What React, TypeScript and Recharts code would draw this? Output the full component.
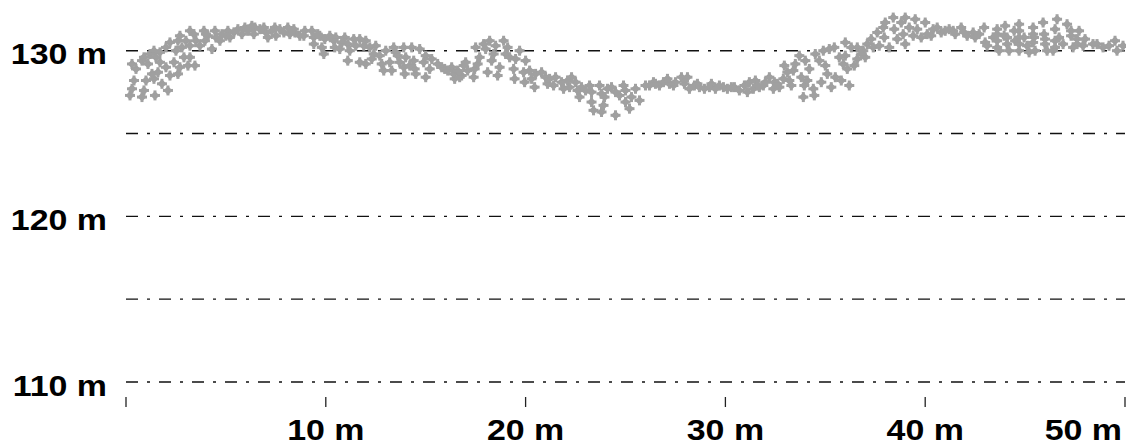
import React from "react";
import { ScatterChart, Scatter, XAxis, YAxis, CartesianGrid } from "recharts";

// Ground profile points: [distance (m), elevation (m)]
const profile0to10: [number, number][] = [
  [0.2,127.3],[0.3,127.7],[0.4,128.2],[0.8,127.2],[0.9,127.6],[1.0,128.2],[1.4,128.3],[1.45,127.3],[1.8,128.0],[2.1,127.6],[1.6,128.7],[2.0,129.0],[2.2,128.5],[2.6,128.6],[2.7,129.0],
  [0.3,129.2],[0.8,129.4],[0.9,129.6],[1.2,129.8],[1.4,130.0],[1.5,129.6],[1.7,129.9],[2.0,130.2],[2.2,130.5],[2.6,130.6],[2.7,130.9],[2.8,130.2],[2.9,129.6],[3.1,129.1],[3.2,131.2],[3.2,129.6],[3.45,129.1],[3.2,130.3],[3.5,130.6],[3.7,130.3],[3.9,131.2],[3.95,130.6],[4.1,130.9],[4.3,130.1],[4.45,131.2],[4.5,130.8],[4.7,130.6],[5.0,130.9],[5.1,131.2],[5.2,130.8],[5.6,131.3],[5.8,131.0],[5.95,131.4],[6.3,131.5],[6.4,131.0],[6.45,131.4],[6.9,131.4],[7.0,131.1],[7.1,130.8],[7.45,131.4],[7.5,130.9],[7.9,131.1],[8.1,131.4],[8.2,131.0],[8.45,131.1],[8.7,130.9],[8.95,131.2],[9.3,131.2],[9.4,130.8],[9.4,130.4],[9.7,130.9],[9.8,130.2],[9.9,129.8],[9.95,130.7],
  [0.5,128.9],[1.1,129.2],[1.3,128.6],[1.7,129.3],[2.4,129.3],[2.5,130.0],[3.0,130.6],[3.4,131.0],[4.0,131.0],[4.8,131.0],[5.4,131.1],[6.1,131.2],[6.7,131.3],[7.3,131.2],[7.7,131.3],[8.4,131.3],[8.9,130.9],[9.6,131.0],
];

const profile10to20: [number, number][] = [
  [10.2,130.9],[10.4,130.6],[10.45,130.2],[10.5,130.8],[10.7,130.1],[10.95,130.8],[11.1,130.4],[11.1,129.4],[11.2,130.0],[11.4,130.7],[11.5,130.3],[11.7,130.7],[11.7,129.3],[12.0,130.6],[12.0,129.2],[12.2,130.2],[12.4,129.8],[12.5,130.3],[12.7,129.7],[12.8,129.2],[12.9,128.8],[13.0,130.0],[13.2,129.3],[13.3,128.8],[13.4,130.2],[13.6,129.7],[13.7,129.3],[13.9,130.2],[13.9,129.0],[13.95,128.6],[14.0,129.6],[14.3,130.2],[14.4,129.4],[14.45,128.9],[14.5,128.6],[14.7,130.1],[14.9,129.3],[15.0,129.7],[15.0,128.4],[15.2,128.9],[15.3,129.5],[15.6,129.2],[15.8,129.0],[15.95,128.9],[16.3,129.0],[16.4,128.6],[16.45,128.3],[16.6,128.8],[16.8,128.5],[16.9,129.1],[17.0,129.3],[17.1,128.8],[17.4,128.4],[17.45,128.9],[17.5,130.2],[17.6,129.2],[17.7,129.6],[17.9,130.4],[18.0,130.1],[18.1,128.7],[18.2,130.6],[18.3,129.4],[18.5,130.3],[18.6,128.5],[18.7,129.0],[18.9,130.6],[19.0,129.8],[19.1,130.2],[19.4,128.9],[19.45,128.3],[19.5,129.5],[19.7,130.0],[19.9,128.7],[19.95,128.1],
  [10.8,130.5],[11.9,130.3],[12.3,129.5],[13.5,129.9],[14.2,129.1],[16.1,128.8],[16.7,128.4],[18.4,129.8],[19.2,129.6],
];

const profile20to30: [number, number][] = [
  [20.0,129.4],[20.2,128.8],[20.45,127.8],[20.5,128.6],[20.8,128.7],[21.0,128.4],[21.2,128.3],[21.4,127.9],[21.5,128.4],[21.8,128.1],[21.9,127.7],[22.1,128.2],[22.2,127.8],[22.5,128.1],[22.6,127.6],[22.7,127.2],[22.8,127.8],[23.2,127.9],[23.3,126.9],[23.3,127.5],[23.4,126.4],[23.7,127.9],[23.8,127.4],[23.9,126.7],[23.8,126.3],[23.95,127.2],[24.1,127.7],[24.3,127.8],[24.5,126.1],[24.5,127.5],[24.9,127.9],[25.0,127.6],[25.0,126.9],[25.2,126.5],[25.3,127.2],[25.5,127.7],[25.7,127.0],[26.0,127.9],[26.2,127.9],[26.4,128.1],[26.7,127.9],[26.9,128.1],[27.1,128.3],[27.4,127.9],[27.5,128.1],[27.8,128.4],[27.95,128.0],[28.1,128.4],[28.2,127.7],[28.45,127.9],[28.7,127.8],[28.95,127.7],[29.2,127.8],[29.5,127.7],[29.9,127.8],
  [20.3,128.3],[21.1,128.0],[22.3,128.4],[23.0,127.6],[24.7,127.3],[26.5,128.0],[27.2,128.0],[28.6,128.0],[29.3,128.0],[29.7,127.9],
];

const profile30to40: [number, number][] = [
  [30.1,127.7],[30.45,127.8],[30.7,127.6],[30.95,127.9],[31.1,127.5],[31.2,128.1],[31.4,127.7],[31.5,128.2],[31.7,127.8],[31.9,127.9],[32.0,128.1],[32.2,128.4],[32.4,127.7],[32.45,128.1],[32.7,127.8],[32.9,128.3],[32.95,129.1],[33.1,128.7],[33.3,127.9],[33.4,128.8],[33.5,129.2],[33.7,129.7],[33.8,128.4],[33.9,127.2],[33.95,127.9],[34.0,129.4],[34.2,128.9],[34.4,127.7],[34.45,127.3],[34.5,129.8],[34.7,129.4],[34.8,128.1],[34.9,130.0],[35.0,129.1],[35.2,130.1],[35.3,127.8],[35.45,130.2],[35.5,128.4],[35.8,128.2],[35.9,129.2],[36.0,130.5],[36.0,129.7],[36.1,128.9],[36.2,127.9],[36.3,130.2],[36.45,129.1],[36.6,130.2],[36.6,129.5],[36.9,130.0],[37.0,129.6],[37.1,130.4],[37.4,130.2],[37.6,131.1],[37.7,130.3],[37.9,131.4],[37.95,130.8],[38.2,130.2],[38.4,132.0],[38.45,131.3],[38.6,130.7],[38.8,131.7],[38.9,131.0],[39.0,132.0],[39.0,130.4],[39.2,131.4],[39.4,130.9],[39.5,131.9],[39.6,131.3],[39.8,130.8],
  [30.3,127.8],[31.6,127.9],[32.6,128.0],[33.2,128.2],[34.1,128.2],[35.1,128.6],[35.7,129.6],[36.8,129.8],[37.3,130.7],[38.0,131.7],
];

const profile40to50: [number, number][] = [
  [40.0,131.7],[40.1,131.0],[40.4,131.3],[40.6,131.4],[40.8,131.1],[41.0,131.2],[41.4,131.2],[41.5,131.0],[41.8,131.4],[41.95,131.1],[42.1,130.9],[42.4,131.1],[42.5,130.8],[42.7,131.0],[42.95,131.4],[43.0,130.5],[43.1,130.3],[43.4,130.8],[43.6,131.3],[43.6,130.2],[43.7,130.0],[43.95,130.9],[44.0,131.5],[44.1,130.4],[44.2,130.0],[44.45,131.2],[44.5,130.6],[44.7,131.6],[44.7,130.0],[44.95,130.8],[45.1,130.3],[45.2,129.9],[45.4,131.4],[45.45,130.8],[45.5,130.0],[45.9,131.7],[45.95,131.0],[46.0,130.4],[46.1,130.0],[46.4,130.0],[46.5,131.3],[46.6,131.9],[46.7,130.8],[46.9,130.4],[47.1,131.6],[47.3,131.2],[47.4,130.2],[47.6,130.7],[47.7,131.2],[47.9,130.3],[48.0,130.7],[48.4,130.4],[48.6,130.4],[48.9,130.2],[49.2,130.3],[49.5,130.6],[49.6,130.0],[49.9,130.3],
  [43.6,130.6],[43.6,131.0],[44.1,130.8],[44.7,130.4],[44.7,130.8],[44.7,131.2],[45.4,131.0],[45.4,130.5],[46.0,130.7],[46.5,130.6],[46.5,130.2],[47.3,130.9],[47.6,130.4],[40.3,130.9],[41.2,131.3],
];

const xTicks = [0, 10, 20, 30, 40, 50];
const xTickLabels = ["", "10 m", "20 m", "30 m", "40 m", "50 m"];
const yTicks = [110, 115, 120, 125, 130];
const yTickLabels = ["110 m", "", "120 m", "", "130 m"];

const points = [
  ...profile0to10,
  ...profile10to20,
  ...profile20to30,
  ...profile30to40,
  ...profile40to50,
].map(([x, y]) => ({ x, y }));

const FONT = "'Liberation Sans', Arial, Helvetica, sans-serif";

const XTick = (props: any) => {
  const { x, y, payload } = props;
  const i = xTicks.indexOf(payload.value);
  const label = i >= 0 ? xTickLabels[i] : "";
  const last = i === xTicks.length - 1;
  return (
    <g>
      <line x1={x} x2={x} y1={y + 15} y2={y + 25} stroke="#222" strokeWidth={1.3} />
      {label && (
        <g transform={`translate(${last ? x - 3 : x},${y + 58}) scale(1.17,1)`}>
          <text x={0} y={0} textAnchor={last ? "end" : "middle"} fontFamily={FONT} fontWeight="bold" fontSize={29} fill="#000">
            {label}
          </text>
        </g>
      )}
    </g>
  );
};

const YTick = (props: any) => {
  const { x, y, payload } = props;
  const i = yTicks.indexOf(payload.value);
  const label = i >= 0 ? yTickLabels[i] : "";
  if (!label) return <g />;
  return (
    <g transform={`translate(${x - 19},${y + 13.5}) scale(1.17,1)`}>
      <text x={0} y={0} textAnchor="end" fontFamily={FONT} fontWeight="bold" fontSize={29} fill="#000">
        {label}
      </text>
    </g>
  );
};

const Marker = (props: any) => {
  const { cx, cy } = props;
  if (cx == null || cy == null) return <g />;
  const d = `M${cx - 4.5},${cy} L${cx},${cy - 4.5} L${cx + 4.5},${cy} L${cx},${cy + 4.5} Z`;
  return (
    <g fill="#a0a0a0">
      <path d={d} />
      <rect x={cx - 1.5} y={cy - 5} width={3} height={10} />
      <rect x={cx - 5} y={cy - 1.5} width={10} height={3} />
    </g>
  );
};

export default function App() {
  return (
    <div style={{ position: "absolute", left: 0, top: 0, width: 1126, height: 445, background: "#fff" }}>
      <ScatterChart width={1126} height={445} margin={{ top: 1, right: 1, bottom: 0, left: 0 }}>
        <CartesianGrid
          vertical={false}
          horizontalValues={yTicks}
          stroke="#111"
          strokeWidth={1.4}
          strokeDasharray="12 9 3 9"
        />
        <XAxis
          type="number"
          dataKey="x"
          domain={[0, 50]}
          ticks={xTicks}
          interval={0}
          axisLine={false}
          tickLine={false}
          tickSize={0}
          tickMargin={0}
          height={63}
          tick={<XTick />}
        />
        <YAxis
          type="number"
          dataKey="y"
          domain={[110, 133]}
          ticks={yTicks}
          interval={0}
          axisLine={false}
          tickLine={false}
          tickSize={0}
          tickMargin={0}
          width={126}
          tick={<YTick />}
        />
        <Scatter data={points} shape={<Marker />} isAnimationActive={false} />
      </ScatterChart>
    </div>
  );
}
